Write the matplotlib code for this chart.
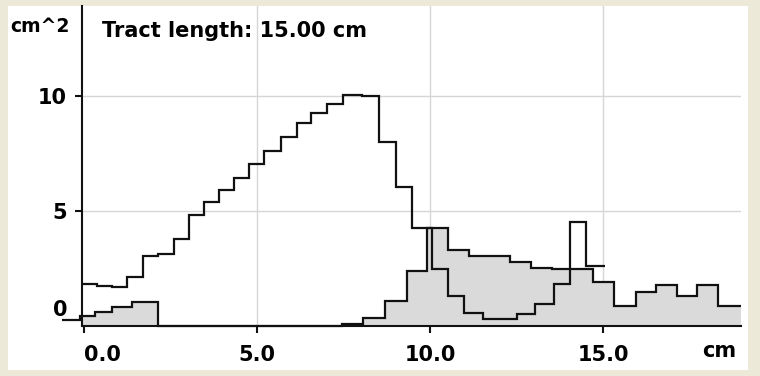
import matplotlib
matplotlib.use("Agg")
import matplotlib.pyplot as plt
from matplotlib.patches import Rectangle
from matplotlib.transforms import ScaledTranslation


# open profile (line only)
a_edges = [-0.05, 0.38, 0.82, 1.25, 1.69, 2.13, 2.61, 3.04, 3.48, 3.90, 4.34,
           4.78, 5.21, 5.69, 6.15, 6.56, 7.01, 7.49, 8.03, 8.53, 9.02, 9.49,
           10.05, 10.53, 10.99, 11.54, 12.52, 13.04, 13.58, 14.05, 14.51, 15.06]
a_values = [1.80, 1.71, 1.66, 2.12, 3.02, 3.12, 3.76, 4.84, 5.38, 5.92, 6.45,
            7.04, 7.62, 8.24, 8.86, 9.27, 9.67, 10.07, 10.02, 8.03, 6.06, 4.24,
            2.45, 1.30, 0.56, 0.27, 0.49, 0.93, 1.80, 4.51, 2.61]

# filled profile
b_edges = [-0.65, -0.12, 0.32, 0.80, 1.38, 2.15, 7.45, 8.07, 8.70, 9.33, 9.92,
           10.53, 11.13, 12.31, 12.91, 13.52, 14.72, 15.32, 15.95, 16.53, 17.13,
           17.73, 18.33, 18.98]
b_values = [0.24, 0.41, 0.60, 0.79, 1.04, 0.0, 0.06, 0.31, 1.07, 2.38, 4.24,
            3.28, 3.04, 2.79, 2.53, 2.45, 1.90, 0.84, 1.46, 1.78, 1.30, 1.78, 0.84]

x_ticks = [0, 5, 10, 15]
x_tick_labels = ["0.0", "5.0", "10.0", "15.0"]
y_ticks = [0, 5, 10]
y_tick_labels = ["0", "5", "10"]

TITLE = "Tract length: 15.00 cm"
XLABEL = "cm"
YLABEL = "cm^2"

W, H = 760, 376
FONT = dict(family="DejaVu Sans", weight="bold", size=15)


def fx(px):
    return px / W


def fy(py):
    return 1 - py / H


def main():
    fig = plt.figure(figsize=(W / 100, H / 100), dpi=100, facecolor="#ECE9D8")
    fig.patches.append(Rectangle((fx(8), fy(370)), fx(748) - fx(8), fy(6) - fy(370),
                                 transform=fig.transFigure, facecolor="white",
                                 edgecolor="none", zorder=-10))

    ax = fig.add_axes([fx(82.3), fy(325.5), fx(740.7) - fx(82.3), fy(6) - fy(325.5)])
    ax.set_facecolor("none")
    ax.set_xlim(-0.05, 18.98)
    ax.set_ylim(0, 13.95)

    for side in ("top", "right"):
        ax.spines[side].set_visible(False)
    for side in ("left", "bottom"):
        ax.spines[side].set_linewidth(1.5)
        ax.spines[side].set_color("#111111")

    ax.set_axisbelow(True)
    ax.grid(True, color="#d6d6d6", linewidth=1.0)

    ax.stairs(b_values, b_edges, fill=True, color="#dadada", zorder=1.5)
    ax.stairs(b_values, b_edges, baseline=None, color="#111111", linewidth=1.6,
              zorder=3, clip_on=False)
    ax.stairs(a_values, a_edges, baseline=None, color="#111111", linewidth=1.6,
              zorder=3)

    ax.set_xticks(x_ticks)
    ax.set_xticklabels(x_tick_labels, fontdict=FONT)
    ax.set_yticks(y_ticks)
    ax.set_yticklabels(y_tick_labels, fontdict=FONT)
    ax.tick_params(axis="both", direction="out", length=5, width=1.5, color="#111111")
    ax.tick_params(axis="x", pad=9)
    ax.tick_params(axis="y", pad=6)

    # first x label sits to the right of its tick, zero y label is lifted
    ax.get_xticklabels()[0].set_horizontalalignment("left")
    zero = ax.get_yticklabels()[0]
    zero.set_transform(zero.get_transform() + ScaledTranslation(0, 0.17, fig.dpi_scale_trans))
    ax.yaxis.get_major_ticks()[0].tick1line.set_visible(False)

    ax.yaxis.get_gridlines()[0].set_visible(False)
    ax.xaxis.get_gridlines()[0].set_visible(False)

    fig.text(fx(10), fy(32), YLABEL, va="baseline", ha="left",
             **dict(FONT, size=13.5))
    fig.text(fx(102), fy(37), TITLE, va="baseline", ha="left", **FONT)
    fig.text(fx(736), fy(357), XLABEL, va="baseline", ha="right", **FONT)

    fig.savefig("out.png", dpi=100, facecolor=fig.get_facecolor())


if __name__ == "__main__":
    main()
